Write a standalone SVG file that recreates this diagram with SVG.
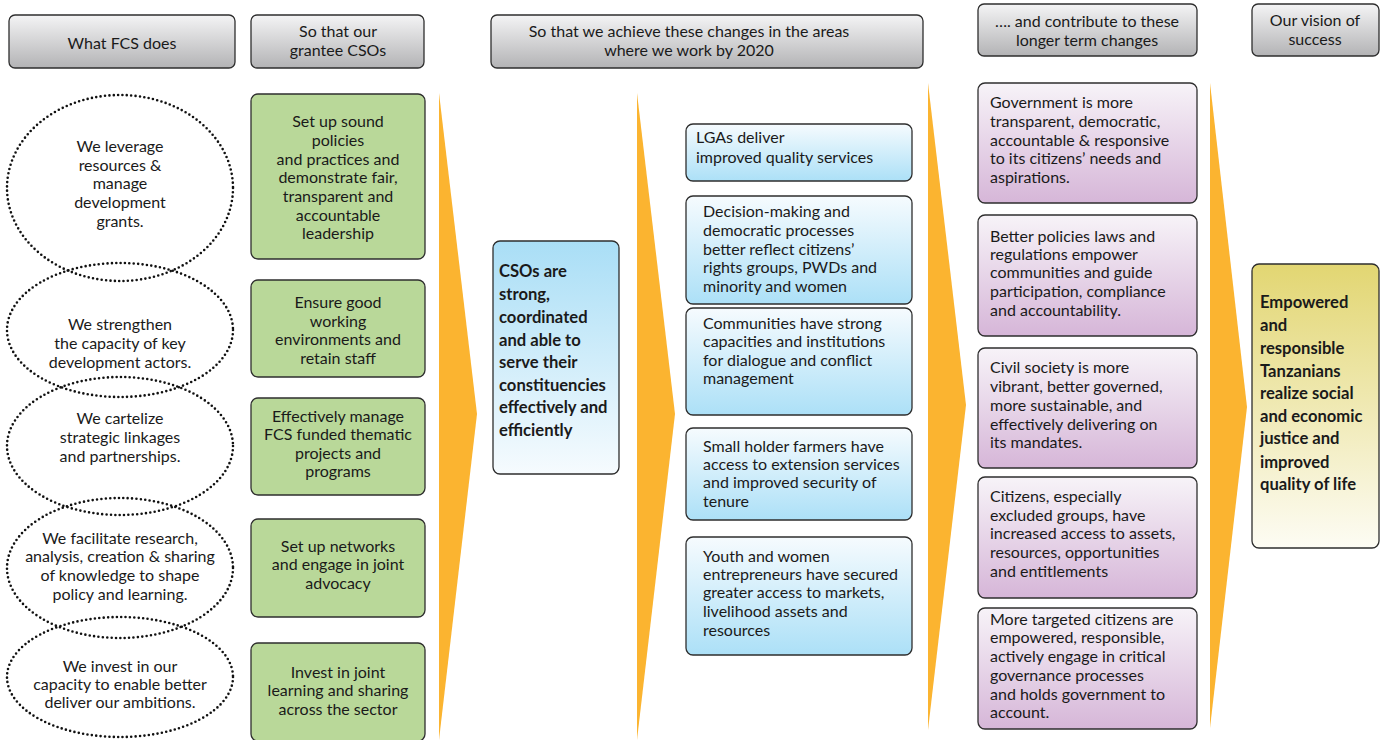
<svg xmlns="http://www.w3.org/2000/svg" width="1391" height="740" viewBox="0 0 1391 740">
<defs>
<linearGradient id="gHead" x1="0" y1="0" x2="0" y2="1"><stop offset="0" stop-color="#f4f4f5"/><stop offset="1" stop-color="#b3b3b5"/></linearGradient>
<linearGradient id="gBlue" x1="0" y1="0" x2="0" y2="1"><stop offset="0" stop-color="#f6fbfe"/><stop offset="1" stop-color="#ace0f7"/></linearGradient>
<linearGradient id="gBlueUp" x1="0" y1="0" x2="0" y2="1"><stop offset="0" stop-color="#a9def6"/><stop offset="1" stop-color="#f6fbfe"/></linearGradient>
<linearGradient id="gPurple" x1="0" y1="0" x2="0" y2="1"><stop offset="0" stop-color="#f7f3f8"/><stop offset="1" stop-color="#d6b6d8"/></linearGradient>
<linearGradient id="gYellow" x1="0" y1="0" x2="0" y2="1"><stop offset="0" stop-color="#e2d672"/><stop offset="1" stop-color="#fdfcf4"/></linearGradient>
</defs>
<style>
text{font-family:Lato,"Open Sans","Liberation Sans",sans-serif;font-size:16px;fill:#1a1a1a}
.c{text-anchor:middle}
.b{font-weight:bold;font-size:16.6px}
.box{stroke:#2e2e2e;stroke-width:1.3}
.head{fill:url(#gHead)}
.green{fill:#b9d899}
.blue{fill:url(#gBlue)}
.purple{fill:url(#gPurple)}
.ell{fill:none;stroke:#111;stroke-width:2.6;stroke-linecap:round;stroke-dasharray:0 4.4}
.arrow{fill:#fbb430}
</style>

<g id="arrows">
<polygon class="arrow" points="439,93 477,414 439,740"/>
<polygon class="arrow" points="637,93 675,414 637,740"/>
<polygon class="arrow" points="928,83 966,405 928,730"/>
<polygon class="arrow" points="1210,83 1247,407 1210,728"/>
</g>

<g id="headers">
<g id="h1"><rect class="box head" x="9" y="15" width="226" height="53" rx="6"/><text class="c" x="122" y="49">What FCS does</text></g>
<g id="h2"><rect class="box head" x="251" y="15" width="173" height="53" rx="6"/><text class="c" x="338" y="37">So that our</text><text class="c" x="338" y="56">grantee CSOs</text></g>
<g id="h3"><rect class="box head" x="491" y="15" width="432" height="53" rx="6"/><text class="c" x="689" y="37">So that we achieve these changes in the areas</text><text class="c" x="689" y="56">where we work by 2020</text></g>
<g id="h4"><rect class="box head" x="978" y="4" width="219" height="52" rx="6"/><text class="c" x="1087" y="27">…. and contribute to these</text><text class="c" x="1087" y="46">longer term changes</text></g>
<g id="h5"><rect class="box head" x="1252" y="4" width="127" height="52" rx="6"/><text class="c" x="1315" y="26">Our vision of</text><text class="c" x="1315" y="45">success</text></g>
</g>

<g id="ellipses">
<g id="e1"><ellipse class="ell" cx="120" cy="188" rx="113" ry="93"/>
<text class="c" x="120" y="152">We leverage</text><text class="c" x="120" y="171">resources &amp;</text><text class="c" x="120" y="189">manage</text><text class="c" x="120" y="208">development</text><text class="c" x="120" y="227">grants.</text></g>
<g id="e2"><ellipse class="ell" cx="120" cy="330" rx="113" ry="67"/>
<text class="c" x="120" y="330">We strengthen</text><text class="c" x="120" y="349">the capacity of key</text><text class="c" x="120" y="368">development actors.</text></g>
<g id="e3"><ellipse class="ell" cx="120" cy="446" rx="113" ry="69"/>
<text class="c" x="120" y="424">We cartelize</text><text class="c" x="120" y="443">strategic linkages</text><text class="c" x="120" y="462">and partnerships.</text></g>
<g id="e4"><ellipse class="ell" cx="120" cy="568" rx="113" ry="70"/>
<text class="c" x="120" y="544">We facilitate research,</text><text class="c" x="120" y="562">analysis, creation &amp; sharing</text><text class="c" x="120" y="581">of knowledge to shape</text><text class="c" x="120" y="600">policy and learning.</text></g>
<g id="e5"><ellipse class="ell" cx="120" cy="677" rx="113" ry="60"/>
<text class="c" x="120" y="672">We invest in our</text><text class="c" x="120" y="690">capacity to enable better</text><text class="c" x="120" y="708">deliver our ambitions.</text></g>
</g>

<g id="green">
<g id="g1"><rect class="box green" x="251" y="94" width="174" height="165" rx="7"/>
<text class="c" x="338" y="127">Set up sound</text><text class="c" x="338" y="146">policies</text><text class="c" x="338" y="165">and practices and</text><text class="c" x="338" y="183">demonstrate fair,</text><text class="c" x="338" y="202">transparent and</text><text class="c" x="338" y="221">accountable</text><text class="c" x="338" y="239">leadership</text></g>
<g id="g2"><rect class="box green" x="251" y="280" width="174" height="97" rx="7"/>
<text class="c" x="338" y="308">Ensure good</text><text class="c" x="338" y="327">working</text><text class="c" x="338" y="345">environments and</text><text class="c" x="338" y="364">retain staff</text></g>
<g id="g3"><rect class="box green" x="251" y="398" width="174" height="97" rx="7"/>
<text class="c" x="338" y="422">Effectively manage</text><text class="c" x="338" y="440">FCS funded thematic</text><text class="c" x="338" y="459">projects and</text><text class="c" x="338" y="477">programs</text></g>
<g id="g4"><rect class="box green" x="251" y="519" width="174" height="98" rx="7"/>
<text class="c" x="338" y="552">Set up networks</text><text class="c" x="338" y="570">and engage in joint</text><text class="c" x="338" y="589">advocacy</text></g>
<g id="g5"><rect class="box green" x="251" y="643" width="174" height="98" rx="7"/>
<text class="c" x="338" y="678">Invest in joint</text><text class="c" x="338" y="696">learning and sharing</text><text class="c" x="338" y="715">across the sector</text></g>
</g>

<g id="cso">
<rect class="box" fill="url(#gBlueUp)" x="493" y="241" width="126" height="233" rx="7"/>
<text class="b" x="499" y="277">CSOs are</text><text class="b" x="499" y="300">strong,</text><text class="b" x="499" y="323">coordinated</text><text class="b" x="499" y="346">and able to</text><text class="b" x="499" y="368">serve their</text><text class="b" x="499" y="391">constituencies</text><text class="b" x="499" y="413">effectively and</text><text class="b" x="499" y="436">efficiently</text>
</g>

<g id="blue">
<g id="b1"><rect class="box blue" x="686" y="124" width="226" height="57" rx="7"/>
<text x="696" y="143">LGAs deliver</text><text x="696" y="163">improved quality services</text></g>
<g id="b2"><rect class="box blue" x="686" y="196" width="226" height="108" rx="7"/>
<text x="703" y="217">Decision-making and</text><text x="703" y="236">democratic processes</text><text x="703" y="255">better reflect citizens’</text><text x="703" y="273">rights groups, PWDs and</text><text x="703" y="292">minority and women</text></g>
<g id="b3"><rect class="box blue" x="686" y="308" width="226" height="107" rx="7"/>
<text x="703" y="329">Communities have strong</text><text x="703" y="347">capacities and institutions</text><text x="703" y="366">for dialogue and conflict</text><text x="703" y="384">management</text></g>
<g id="b4"><rect class="box blue" x="686" y="428" width="226" height="92" rx="7"/>
<text x="703" y="452">Small holder farmers have</text><text x="703" y="470">access to extension services</text><text x="703" y="488">and improved security of</text><text x="703" y="507">tenure</text></g>
<g id="b5"><rect class="box blue" x="686" y="537" width="226" height="118" rx="7"/>
<text x="703" y="562">Youth and women</text><text x="703" y="580">entrepreneurs have secured</text><text x="703" y="598">greater access to markets,</text><text x="703" y="617">livelihood assets and</text><text x="703" y="636">resources</text></g>
</g>

<g id="purple">
<g id="p1"><rect class="box purple" x="978" y="83" width="219" height="120" rx="7"/>
<text x="990" y="108">Government is more</text><text x="990" y="127">transparent, democratic,</text><text x="990" y="146">accountable &amp; responsive</text><text x="990" y="164">to its citizens’ needs and</text><text x="990" y="183">aspirations.</text></g>
<g id="p2"><rect class="box purple" x="978" y="215" width="219" height="121" rx="7"/>
<text x="990" y="242">Better policies laws and</text><text x="990" y="260">regulations empower</text><text x="990" y="278">communities and guide</text><text x="990" y="297">participation, compliance</text><text x="990" y="316">and accountability.</text></g>
<g id="p3"><rect class="box purple" x="978" y="348" width="219" height="120" rx="7"/>
<text x="990" y="373">Civil society is more</text><text x="990" y="392">vibrant, better governed,</text><text x="990" y="411">more sustainable, and</text><text x="990" y="430">effectively delivering on</text><text x="990" y="448">its mandates.</text></g>
<g id="p4"><rect class="box purple" x="978" y="477" width="219" height="121" rx="7"/>
<text x="990" y="502">Citizens, especially</text><text x="990" y="521">excluded groups, have</text><text x="990" y="539">increased access to assets,</text><text x="990" y="558">resources, opportunities</text><text x="990" y="577">and entitlements</text></g>
<g id="p5"><rect class="box purple" x="978" y="608" width="219" height="121" rx="7"/>
<text x="990" y="625">More targeted citizens are</text><text x="990" y="643">empowered, responsible,</text><text x="990" y="662">actively engage in critical</text><text x="990" y="681">governance processes</text><text x="990" y="700">and holds government to</text><text x="990" y="718">account.</text></g>
</g>

<g id="vision">
<rect class="box" fill="url(#gYellow)" x="1252" y="264" width="127" height="284" rx="7"/>
<text class="b" x="1260" y="308">Empowered</text><text class="b" x="1260" y="331">and</text><text class="b" x="1260" y="354">responsible</text><text class="b" x="1260" y="377">Tanzanians</text><text class="b" x="1260" y="399">realize social</text><text class="b" x="1260" y="422">and economic</text><text class="b" x="1260" y="444">justice and</text><text class="b" x="1260" y="468">improved</text><text class="b" x="1260" y="490">quality of life</text>
</g>
</svg>
